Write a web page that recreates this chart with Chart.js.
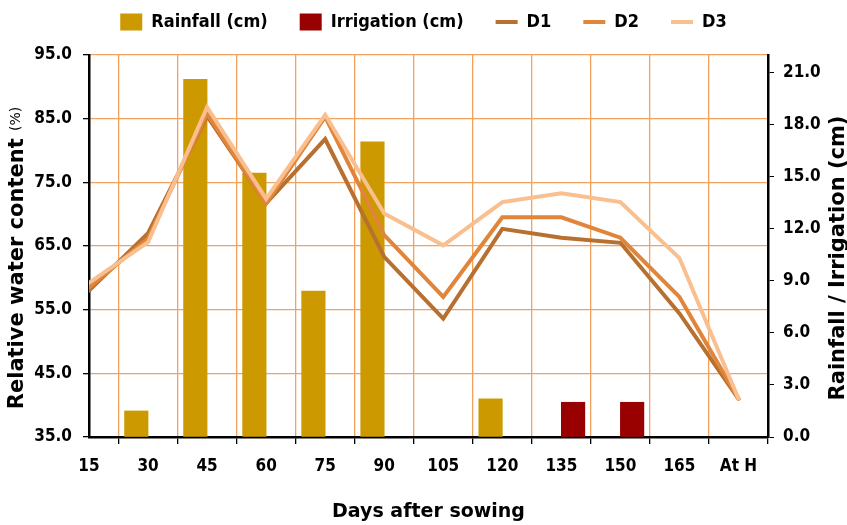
<!DOCTYPE html>
<html>
<head>
<meta charset="utf-8">
<script src="https://cdn.jsdelivr.net/npm/chart.js@4.4.0/dist/chart.umd.min.js"></script>
<style>
  body { margin: 0; background: #fff; }
  #wrap { width: 847px; height: 525px; }
</style>
</head>
<body>
<div id="wrap"><canvas id="rwc-chart" width="847" height="525"></canvas></div>
<script>
const days = ['15', '30', '45', '60', '75', '90', '105', '120', '135', '150', '165', 'At H'];
const rainfall = [null, 1.5, 20.6, 15.2, 8.4, 17.0, null, 2.2, null, null, null, null];
const irrigation = [null, null, null, null, null, null, null, null, 2.0, 2.0, null, null];
const d1 = [58.0, 67.0, 85.4, 71.7, 81.8, 63.3, 53.6, 67.7, 66.3, 65.5, 54.4, 41.0];
const d2 = [58.5, 66.2, 85.8, 71.7, 85.3, 66.7, 57.0, 69.5, 69.5, 66.3, 57.0, 41.0];
const d3 = [59.2, 65.6, 86.8, 72.4, 85.6, 70.1, 65.1, 71.9, 73.3, 71.9, 63.1, 41.0];

const narrow = "'Liberation Sans Narrow', 'DejaVu Sans Condensed', sans-serif";
const wide = "'DejaVu Sans', sans-serif";
const gridOrange = '#F4A15D';

function pts(arr) {
  return arr.map((v, i) => ({ x: i, y: v }));
}

// both y titles drawn by hand: left has a smaller "(%)", right reads bottom-to-top
const yTitles = {
  id: 'yTitles',
  afterDraw(chart) {
    const ctx = chart.ctx;
    ctx.save();
    ctx.fillStyle = '#000';
    ctx.textBaseline = 'middle';

    // left
    ctx.save();
    ctx.translate(18, 258);
    ctx.rotate(-Math.PI / 2);
    const big = 'bold 21px ' + wide;
    const small = '14px ' + wide;
    ctx.font = big;
    const w1 = ctx.measureText('Relative water content ').width;
    ctx.font = small;
    const w2 = ctx.measureText('(%)').width;
    let x0 = -(w1 + w2) / 2;
    ctx.textAlign = 'left';
    ctx.font = big;
    ctx.fillText('Relative water content ', x0, 0);
    ctx.font = small;
    ctx.fillText('(%)', x0 + w1, -2);
    ctx.restore();

    // right
    ctx.save();
    ctx.translate(839, 258);
    ctx.rotate(-Math.PI / 2);
    ctx.font = 'bold 21px ' + wide;
    ctx.textAlign = 'center';
    ctx.fillText('Rainfall / Irrigation (cm)', 0, 0);
    ctx.restore();

    ctx.restore();
  }
};

const legendFit = {
  id: 'legendFit',
  beforeInit(chart) {
    const fit = chart.legend.fit;
    chart.legend.fit = function () {
      fit.bind(chart.legend)();
      this.height = 74;
    };
  }
};

const lineDs = (label, data, color, order) => ({
  type: 'line',
  label: label,
  data: pts(data),
  yAxisID: 'y',
  borderColor: color,
  backgroundColor: color,
  borderWidth: 4,
  pointRadius: 0,
  tension: 0,
  pointStyle: 'line',
  borderCapStyle: 'round',
  order: order
});

new Chart(document.getElementById('rwc-chart'), {
  type: 'bar',
  data: {
    datasets: [
      { label: 'Rainfall (cm)', data: pts(rainfall), yAxisID: 'y1', backgroundColor: '#CC9900', barThickness: 23.5, pointStyle: 'rect', order: 4 },
      { label: 'Irrigation (cm)', data: pts(irrigation), yAxisID: 'y1', backgroundColor: '#990000', barThickness: 23.5, pointStyle: 'rect', order: 5 },
      lineDs('D1', d1, '#B7702F', 3),
      lineDs('D2', d2, '#E0853A', 2),
      lineDs('D3', d3, '#F9BF8F', 1)
    ]
  },
  options: {
    responsive: false,
    animation: false,
    layout: { padding: { top: -19, left: 0, right: 0, bottom: 0 } },
    plugins: {
      tooltip: { enabled: false },
      legend: {
        position: 'top',
        labels: {
          usePointStyle: true,
          pointStyleWidth: 22,
          boxHeight: 17,
          padding: 32,
          color: '#000',
          font: { family: narrow, size: 18, weight: 'bold' },
          sort: (a, b) => a.datasetIndex - b.datasetIndex
        }
      }
    },
    scales: {
      x: {
        type: 'linear',
        min: 0,
        max: 11.5,
        offset: false,
        afterFit: s => { s.height = 88; },
        ticks: {
          stepSize: 1,
          includeBounds: false,
          autoSkip: false,
          maxRotation: 0,
          padding: 12,
          color: '#000',
          font: { family: narrow, size: 17, weight: 'bold' },
          callback: v => days[v]
        },
        grid: { color: gridOrange, lineWidth: 1.3, tickColor: '#000', tickLength: 7 },
        border: { color: '#000', width: 2.5 },
        title: {
          display: true,
          text: 'Days after sowing',
          color: '#000',
          padding: { top: 0, bottom: 2 },
          font: { family: wide, size: 19, weight: 'bold' }
        }
      },
      y: {
        position: 'left',
        min: 35,
        max: 95,
        afterFit: s => { s.width = 89; },
        ticks: {
          stepSize: 10,
          padding: 11,
          color: '#000',
          font: { family: narrow, size: 17, weight: 'bold' },
          callback: v => v.toFixed(1)
        },
        grid: { color: gridOrange, lineWidth: 1.3, tickColor: '#000', tickLength: 6 },
        border: { color: '#000', width: 2.5 }
      },
      y1: {
        position: 'right',
        min: 0,
        max: 22,
        afterFit: s => { s.width = 79; },
        ticks: {
          stepSize: 3,
          includeBounds: false,
          padding: 9,
          color: '#000',
          font: { family: narrow, size: 17, weight: 'bold' },
          callback: v => v.toFixed(1)
        },
        grid: { drawOnChartArea: false, tickColor: '#000', tickLength: 6 },
        border: { color: '#000', width: 2.5 }
      }
    }
  },
  plugins: [legendFit, yTitles]
});
</script>
</body>
</html>
